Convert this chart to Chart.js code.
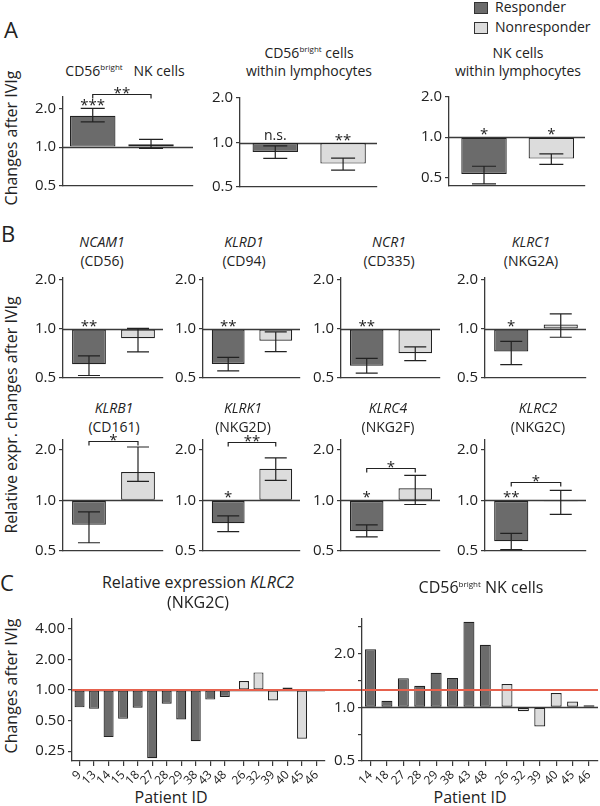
<!DOCTYPE html>
<html>
<head>
<meta charset="utf-8">
<script src="https://cdn.jsdelivr.net/npm/chart.js@4.4.1/dist/chart.umd.min.js"></script>
<style>
  html, body { margin: 0; padding: 0; background: #fff; overflow: hidden; }
  body { width: 600px; height: 806px; position: relative; font-family: 'Open Sans', sans-serif; color: #222; }
  canvas { position: absolute; }
  .lbl { position: absolute; white-space: nowrap; transform: translate(-50%, -50%); line-height: 1.2; font-size: 14px; }
  .lbl sup { font-size: 8px; vertical-align: 6px; line-height: 0; }
  .letter { font-size: 22px; }
  .ytitle { font-size: 16px; transform: translate(-50%, -50%) rotate(-90deg); }
  .ctitle { font-size: 16px; }
  .legend { transform: translate(0, -50%); }
  .swatch { position: absolute; width: 12px; height: 10px; border: 1px solid #333; }
</style>
</head>
<body>
<script>
const groups = ['Responder', 'Nonresponder'];

// A: flow cytometry, change after IVIg (mean and error range)
const aTitles = [
  ['CD56<sup>bright</sup>&nbsp;&nbsp; NK cells'],
  ['CD56<sup>bright</sup> cells', 'within lymphocytes'],
  ['NK cells', 'within lymphocytes']
];
const aMean = [[1.75, 1.055], [0.862, 0.72], [0.53, 0.69]];
const aLow = [[1.57, 0.98], [0.78, 0.65], [0.446, 0.625]];
const aHigh = [[2.0, 1.15], [0.95, 0.785], [0.605, 0.75]];
const aStars = [['***', ''], ['n.s.', '**'], ['*', '*']];
const aBrackets = [{ label: '**', level: 2.58 }, null, null];

// B: relative expression changes after IVIg
const bGenes = ['NCAM1', 'KLRD1', 'NCR1', 'KLRC1', 'KLRB1', 'KLRK1', 'KLRC4', 'KLRC2'];
const bProteins = ['(CD56)', '(CD94)', '(CD335)', '(NKG2A)', '(CD161)', '(NKG2D)', '(NKG2F)', '(NKG2C)'];
const bMean = [[0.607, 0.878], [0.61, 0.847], [0.595, 0.71], [0.727, 1.065],
               [0.717, 1.475], [0.732, 1.545], [0.655, 1.18], [0.572, 0.99]];
const bLow = [[0.518, 0.723], [0.553, 0.727], [0.536, 0.64], [0.605, 0.89],
              [0.56, 1.30], [0.653, 1.316], [0.607, 0.946], [0.51, 0.825]];
const bHigh = [[0.684, 1.01], [0.67, 0.96], [0.66, 0.776], [0.84, 1.24],
               [0.856, 2.08], [0.81, 1.79], [0.716, 1.41], [0.636, 1.147]];
const bStars = [['**', ''], ['**', ''], ['**', ''], ['*', ''], ['', ''], ['*', ''], ['*', ''], ['**', '']];
const bBrackets = [null, null, null, null,
  { label: '*', level: 2.25 }, { label: '**', level: 2.23 }, { label: '*', level: 1.55 }, { label: '*', level: 1.29 }];

// C: per patient (responders first, then nonresponders)
const klrc2Ids = ['9', '13', '14', '15', '18', '27', '28', '29', '38', '43', '48', '26', '32', '39', '40', '45', '46'];
const klrc2Vals = [0.675, 0.652, 0.344, 0.52, 0.67, 0.213, 0.732, 0.513, 0.313, 0.804, 0.853, 1.225, 1.49, 0.787, 1.06, 0.332, 1.01];
const klrc2Resp = 11;
const cd56Ids = ['14', '18', '27', '28', '29', '38', '43', '48', '26', '32', '39', '40', '45', '46'];
const cd56Vals = [2.11, 1.086, 1.455, 1.32, 1.56, 1.46, 3.01, 2.24, 1.35, 0.95, 0.78, 1.2, 1.077, 1.025];
const cd56Resp = 8;

const DARK = '#6b6b6b', LIGHT = '#dcdcdc', INK = '#222', AXIS = '#3a3a3a', RED = '#e6614d';
const FONT = "'Open Sans', sans-serif";

// layout of each plot area in page pixels
const boxA = [
  { l: 63, t: 97, r: 193, b: 186, yMin: 0.5, yMax: 2.45, xMin: -0.51, xMax: 1.72, bar: 0.78, tx: 125 },
  { l: 240, t: 98, r: 377, b: 187, yMin: 0.5, yMax: 2.0, xMin: -0.52, xMax: 1.5, bar: 0.67, tx: 309 },
  { l: 449, t: 97, r: 585, b: 186, yMin: 0.43, yMax: 2.0, xMin: -0.52, xMax: 1.5, bar: 0.675, tx: 518 }
];
const bLefts = [63, 203, 341, 485], bRights = [163, 300, 440, 586];
const bRows = [{ t: 278, b: 378, yMax: 2.06, ty: 242 }, { t: 440, b: 551, yMax: 2.29, ty: 408 }];
const bTitleX = [102, 244, 389, 531, 114, 243, 388, 538];
const boxC = [
  { l: 72, t: 613, r: 325, b: 761, yMin: 0.2, yMax: 5.0, xMin: -0.52, xMax: 16.9, bar: 0.69, padR: 37 },
  { l: 362, t: 613, r: 598, b: 761, yMin: 0.5, yMax: 3.12, xMin: -0.52, xMax: 13.87, bar: 0.67, padR: 8 }
];
const GROUP_GAP = 0.32;

function label(html, x, y, cls) {
  const d = document.createElement('div');
  d.className = 'lbl' + (cls ? ' ' + cls : '');
  d.innerHTML = html;
  d.style.left = x + 'px';
  d.style.top = y + 'px';
  document.body.appendChild(d);
  return d;
}

const marksPlugin = {
  id: 'marks',
  beforeDatasetsDraw(chart) {
    const { ctx, chartArea: a, scales: { y } } = chart;
    const py = Math.round(y.getPixelForValue(1)) + 0.5;
    ctx.save();
    ctx.strokeStyle = AXIS;
    ctx.lineWidth = 1.3;
    ctx.beginPath();
    ctx.moveTo(a.left, py);
    ctx.lineTo(a.right, py);
    ctx.stroke();
    ctx.restore();
  },
  afterDatasetsDraw(chart, args, o) {
    const { ctx, chartArea: a, scales: { y } } = chart;
    const ds = chart.data.datasets[0];
    const bars = chart.getDatasetMeta(0).data;
    ctx.save();
    ctx.strokeStyle = INK;
    ctx.lineWidth = 1.2;
    if (ds.errLow) {
      bars.forEach((bar, i) => {
        const lo = y.getPixelForValue(ds.errLow[i]);
        const hi = y.getPixelForValue(ds.errHigh[i]);
        const cap = o.cap || 11;
        ctx.beginPath();
        ctx.moveTo(bar.x, lo); ctx.lineTo(bar.x, hi);
        ctx.moveTo(bar.x - cap, lo); ctx.lineTo(bar.x + cap, lo);
        ctx.moveTo(bar.x - cap, hi); ctx.lineTo(bar.x + cap, hi);
        ctx.stroke();
      });
    }
    ctx.fillStyle = INK;
    ctx.textAlign = 'center';
    ctx.textBaseline = 'alphabetic';
    if (o.stars) {
      bars.forEach((bar, i) => {
        const s = o.stars[i];
        if (!s) return;
        let top = y.getPixelForValue(Math.max(1, ds.data[i].y));
        if (ds.errHigh) top = Math.min(top, y.getPixelForValue(ds.errHigh[i]));
        const star = s.includes('*');
        ctx.font = (star ? 15 : 14) + 'px ' + FONT;
        ctx.fillText(s, bar.x, star ? top + 2 : top - 3);
      });
    }
    if (o.bracket) {
      const by = Math.round(y.getPixelForValue(o.bracket.level)) + 0.5;
      const x1 = bars[0].x, x2 = bars[1].x;
      ctx.beginPath();
      ctx.moveTo(x1, by + 4); ctx.lineTo(x1, by); ctx.lineTo(x2, by); ctx.lineTo(x2, by + 4);
      ctx.stroke();
      ctx.font = '15px ' + FONT;
      ctx.fillText(o.bracket.label, (x1 + x2) / 2, by + 3);
    }
    if (o.refLine) {
      const ry = y.getPixelForValue(o.refLine.value);
      ctx.strokeStyle = RED;
      ctx.lineWidth = 2;
      ctx.beginPath();
      ctx.moveTo(a.left, ry);
      ctx.lineTo(o.refLine.toEdge ? chart.width : a.right, ry);
      ctx.stroke();
    }
    ctx.restore();
  }
};

function barPanel(box, o) {
  const padT = o.padT ?? 24, padR = box.padR ?? 6, yW = o.yW ?? 44, xH = o.xH ?? 12;
  const w = box.r - box.l + yW + padR, h = box.b - box.t + padT + xH;
  const c = document.createElement('canvas');
  c.width = w; c.height = h;
  c.style.left = (box.l - yW) + 'px';
  c.style.top = (box.t - padT) + 'px';
  c.style.width = w + 'px';
  c.style.height = h + 'px';
  document.body.appendChild(c);

  const xTicks = o.xLabels
    ? {
        display: true, autoSkip: false, minRotation: 45, maxRotation: 45, padding: 2,
        font: { family: FONT, size: 12 }, color: INK,
        callback: (v, i) => o.xLabels[i]
      }
    : { display: false };

  return new Chart(c, {
    type: 'bar',
    data: {
      datasets: [{
        data: o.xs.map((x, i) => ({ x, y: o.values[i] })),
        base: 1,
        backgroundColor: o.colors,
        borderColor: INK,
        borderWidth: 1.2,
        borderSkipped: false,
        barPercentage: box.bar,
        categoryPercentage: 1,
        errLow: o.errLow,
        errHigh: o.errHigh
      }]
    },
    options: {
      responsive: false,
      animation: false,
      devicePixelRatio: 1,
      layout: { padding: { top: padT, right: padR, left: 0, bottom: 0 } },
      plugins: {
        legend: { display: false },
        tooltip: { enabled: false },
        marks: { stars: o.stars, bracket: o.bracket, refLine: o.refLine, cap: o.cap }
      },
      scales: {
        x: {
          type: 'linear', min: box.xMin, max: box.xMax, offset: false,
          afterFit: s => { s.height = xH; },
          afterBuildTicks: s => { s.ticks = o.xs.map(v => ({ value: v })); },
          ticks: xTicks,
          grid: { display: !!o.xLabels, drawOnChartArea: false, offset: false, tickLength: 5, color: AXIS, lineWidth: 1.2 },
          border: { display: true, color: AXIS, width: 1.3 }
        },
        y: {
          type: 'logarithmic', min: box.yMin, max: box.yMax, bounds: 'data',
          afterFit: s => { s.width = yW; },
          afterBuildTicks: s => { s.ticks = o.yTicks.map(v => ({ value: v })); },
          ticks: {
            font: { family: FONT, size: 15 }, color: INK, padding: 3,
            callback: v => (o.yMajor.includes(v) ? v.toFixed(o.digits) : '')
          },
          grid: { drawOnChartArea: false, tickLength: 4, color: AXIS, lineWidth: 1.2 },
          border: { color: AXIS, width: 1.3 }
        }
      }
    },
    plugins: [marksPlugin]
  });
}

// legend and panel letters
groups.forEach((g, i) => {
  const sw = document.createElement('div');
  sw.className = 'swatch';
  sw.style.left = '474px';
  sw.style.top = (2 + i * 20) + 'px';
  sw.style.background = i === 0 ? DARK : LIGHT;
  document.body.appendChild(sw);
  label(g, 495, 7 + i * 20, 'legend');
});
label('A', 11, 29, 'letter');
label('B', 8, 233, 'letter');
label('C', 7, 582, 'letter');

// panel A
label('Changes after IVIg', 12, 138, 'ytitle');
boxA.forEach((box, k) => {
  const lines = aTitles[k];
  lines.forEach((t, j) => label(t, box.tx, lines.length === 1 ? 71 : 53 + j * 18));
  barPanel(box, {
    xs: [0, 1], values: aMean[k], errLow: aLow[k], errHigh: aHigh[k],
    colors: [DARK, LIGHT], stars: aStars[k], bracket: aBrackets[k], cap: 12,
    yTicks: [0.5, 1, 2], yMajor: [0.5, 1, 2], digits: 1
  });
});

// panel B
label('Relative expr. changes after IVIg', 12, 415, 'ytitle');
bGenes.forEach((gene, k) => {
  const row = bRows[Math.floor(k / 4)];
  const col = k % 4;
  const box = { l: bLefts[col], r: bRights[col], t: row.t, b: row.b, yMin: 0.5, yMax: row.yMax, xMin: -0.53, xMax: 1.51, bar: 0.69 };
  label('<i>' + gene + '</i>', bTitleX[k], row.ty);
  label(bProteins[k], bTitleX[k], row.ty + 19);
  barPanel(box, {
    xs: [0, 1], values: bMean[k], errLow: bLow[k], errHigh: bHigh[k],
    colors: [DARK, LIGHT], stars: bStars[k], bracket: bBrackets[k], cap: 11,
    yTicks: [0.5, 1, 2], yMajor: [0.5, 1, 2], digits: 1
  });
});

// panel C
label('Changes after IVIg', 12, 686, 'ytitle');
label('Relative expression <i>KLRC2</i>', 198, 583, 'ctitle');
label('(NKG2C)', 198, 603, 'ctitle');
label('CD56<sup>bright</sup> NK cells', 481, 588, 'ctitle');
label('Patient ID', 171, 798, 'ctitle');
label('Patient ID', 470, 798, 'ctitle');

const patientXs = (ids, nResp) => ids.map((_, i) => i + (i >= nResp ? GROUP_GAP : 0));
const patientColors = (ids, nResp) => ids.map((_, i) => (i < nResp ? DARK : LIGHT));

barPanel(boxC[0], {
  xs: patientXs(klrc2Ids, klrc2Resp), values: klrc2Vals, colors: patientColors(klrc2Ids, klrc2Resp),
  xLabels: klrc2Ids, yW: 52, xH: 32, padT: 6,
  yTicks: [0.25, 0.354, 0.5, 0.707, 1, 1.414, 2, 2.83, 4], yMajor: [0.25, 0.5, 1, 2, 4], digits: 2,
  refLine: { value: 1, toEdge: true }
});
barPanel(boxC[1], {
  xs: patientXs(cd56Ids, cd56Resp), values: cd56Vals, colors: patientColors(cd56Ids, cd56Resp),
  xLabels: cd56Ids, yW: 52, xH: 32, padT: 6,
  yTicks: [0.5, 0.707, 1, 1.414, 2, 2.83], yMajor: [0.5, 1, 2], digits: 1,
  refLine: { value: 1.25 }
});
</script>
</body>
</html>
